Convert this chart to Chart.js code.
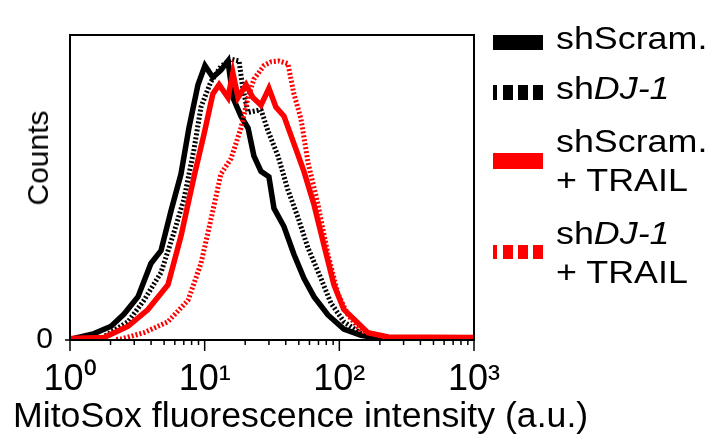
<!DOCTYPE html>
<html>
<head>
<meta charset="utf-8">
<script src="https://cdn.jsdelivr.net/npm/chart.js@4.4.0/dist/chart.umd.min.js"></script>
<style>
  body { margin: 0; background: #fff; }
  #wrap { position: relative; width: 711px; height: 445px; font-family: "Liberation Sans", Arial, sans-serif; color: #000; }
  canvas { position: absolute; left: 0; top: 0; }
  .txt { position: absolute; white-space: nowrap; }
  .leg { position: absolute; left: 556px; font-size: 32px; line-height: 39px; transform: scaleX(1.12); transform-origin: left top; }
  .sw { position: absolute; }
</style>
</head>
<body>
<div id="wrap">
  <canvas id="histo" width="711" height="445"></canvas>
  <div class="txt" id="xTitle" style="left:13px; top:395px; font-size:35.7px; line-height:40px;">MitoSox fluorescence intensity (a.u.)</div>
  <div class="txt" id="yTitle" style="left:38px; top:158px; font-size:30px; line-height:34px; transform: translate(-50%,-50%) rotate(-90deg);">Counts</div>

  <div class="sw" style="left:493px; top:35px; width:50px; height:15px; background:#000;"></div>
  <div class="leg" style="top:19px;">shScram.</div>

  <div class="sw" style="left:493px; top:85px; width:4px; height:15px; background:#000;"></div>
  <div class="sw" style="left:503px; top:85px; width:10px; height:15px; background:#000;"></div>
  <div class="sw" style="left:518px; top:85px; width:10px; height:15px; background:#000;"></div>
  <div class="sw" style="left:533px; top:85px; width:10px; height:15px; background:#000;"></div>
  <div class="leg" style="top:69px;">sh<i>DJ-1</i></div>

  <div class="sw" style="left:493px; top:153px; width:50px; height:16px; background:#ff0000;"></div>
  <div class="leg" style="top:122px;">shScram.<br>+ TRAIL</div>

  <div class="sw" style="left:493px; top:245px; width:4px; height:14px; background:#ff0000;"></div>
  <div class="sw" style="left:503px; top:245px; width:10px; height:14px; background:#ff0000;"></div>
  <div class="sw" style="left:518px; top:245px; width:10px; height:14px; background:#ff0000;"></div>
  <div class="sw" style="left:533px; top:245px; width:10px; height:14px; background:#ff0000;"></div>
  <div class="leg" style="top:214px;">sh<i>DJ-1</i><br>+ TRAIL</div>
</div>
<script>
// histogram data (intensity in a.u., counts in % of max)
const scramX = [1, 1.07, 1.51, 2.02, 2.52, 3.20, 3.99, 4.74, 5.62, 6.67, 7.64, 8.92, 10.05, 11.5, 13.2, 14.9, 16.2, 18.6, 21.0, 23.2, 26.2, 30.0, 32.7, 38.8, 46.0, 54.6, 64.8, 82.3, 108, 145, 194, 300];
const scramY = [0.3, 0.5, 2.1, 4.5, 8.5, 14.2, 25.1, 29.3, 42.3, 54.4, 69.5, 83.7, 90.0, 86.1, 88.5, 91.5, 79.5, 73.4, 69.5, 60.4, 55.3, 53.5, 43.2, 37.2, 28.1, 20.2, 14.2, 8.2, 3.6, 1.5, 0.6, 0.3];

const djX = [1, 1.70, 2.70, 3.54, 4.74, 5.92, 7.02, 8.33, 9.39, 11.1, 13.2, 15.7, 18.0, 19.2, 21.0, 26.2, 29.5, 35.0, 41.5, 49.3, 58.5, 73.0, 86.6, 108, 145, 194, 300];
const djY = [0.2, 0.5, 6.0, 13.0, 22.1, 35.3, 46.2, 62.5, 76.4, 84.6, 89.7, 92.1, 91.5, 82.5, 74.6, 75.5, 68.6, 60.4, 49.2, 40.2, 30.2, 20.2, 12.1, 6.0, 2.1, 0.8, 0.3];

const scramTrailX = [1, 1.79, 2.70, 3.79, 5.34, 6.67, 8.33, 9.88, 11.5, 12.8, 14.9, 16.2, 17.7, 20.3, 22.8, 26.2, 30.0, 33.8, 38.8, 46.0, 54.6, 64.8, 76.9, 91.2, 108, 128, 163, 230, 1000];
const scramTrailY = [0.5, 0.8, 4.5, 10.0, 18.1, 34.1, 53.5, 67.4, 80.7, 83.7, 79.5, 87.6, 79.5, 83.7, 79.5, 77.0, 82.5, 76.4, 73.4, 64.4, 55.3, 44.4, 31.1, 18.1, 10.0, 6.9, 2.4, 1.0, 0.8];

const djTrailX = [2.2, 2.39, 3.54, 5.34, 7.52, 9.39, 11.1, 13.2, 15.7, 18.6, 21.0, 23.2, 27.6, 31.1, 35.6, 41.5, 46.0, 51.9, 58.5, 69.4, 82.3, 97.7, 116, 145, 194, 254, 400];
const djTrailY = [0.2, 0.3, 2.4, 6.0, 13.0, 25.1, 39.3, 54.4, 59.5, 69.5, 79.5, 85.5, 90.0, 91.2, 91.5, 90.6, 80.7, 72.5, 58.3, 44.4, 28.1, 15.1, 8.2, 3.0, 1.5, 0.6, 0.3];

const decades = [1, 10, 100, 1000];
const sup = ['\u2070', '\u00b9', '\u00b2', '\u00b3'];

const pts = (xs, ys) => xs.map((x, i) => ({x: x, y: ys[i]}));

// box + tick marks (major/minor have different lengths)
const frame = {
  id: 'frame',
  afterDraw(chart) {
    const ctx = chart.ctx;
    const a = chart.chartArea;
    const xs = chart.scales.x;
    ctx.save();
    ctx.strokeStyle = '#000';
    ctx.lineWidth = 2;
    ctx.strokeRect(a.left, a.top, a.right - a.left, a.bottom - a.top);
    ctx.lineWidth = 1.5;
    ctx.beginPath();
    for (let d = 0; d < 3; d++) {
      for (let m = 1; m < 10; m++) {
        const px = xs.getPixelForValue(m * Math.pow(10, d));
        ctx.moveTo(px, a.bottom);
        ctx.lineTo(px, a.bottom + (m == 1 ? 11 : 5));
      }
    }
    const pEnd = xs.getPixelForValue(1000);
    ctx.moveTo(pEnd, a.bottom);
    ctx.lineTo(pEnd, a.bottom + 11);
    // zero tick on y
    const y0 = chart.scales.y.getPixelForValue(0);
    ctx.moveTo(a.left - 5, y0);
    ctx.lineTo(a.left + 4, y0);
    ctx.stroke();
    ctx.restore();
  }
};

new Chart(document.getElementById('histo'), {
  type: 'line',
  data: {
    datasets: [
      {label: 'shScram.', data: pts(scramX, scramY), borderColor: '#000', borderWidth: 5.5, order: 2},
      {label: 'shDJ-1', data: pts(djX, djY), borderColor: '#000', borderWidth: 5, borderDash: [2, 2], order: 3},
      {label: 'shScram. + TRAIL', data: pts(scramTrailX, scramTrailY), borderColor: '#ff0000', borderWidth: 5.5, order: 0},
      {label: 'shDJ-1 + TRAIL', data: pts(djTrailX, djTrailY), borderColor: '#ff0000', borderWidth: 5, borderDash: [2, 2], order: 1}
    ]
  },
  options: {
    responsive: false,
    animation: false,
    layout: {padding: {left: 0, top: 9, right: 237, bottom: 0}},
    elements: {point: {radius: 0}, line: {tension: 0, fill: false, borderJoinStyle: 'miter'}},
    plugins: {legend: {display: false}, tooltip: {enabled: false}},
    scales: {
      x: {
        type: 'logarithmic',
        min: 1,
        max: 1000,
        grid: {display: false, drawTicks: false},
        border: {display: true, color: '#000', width: 2},
        afterFit: s => { s.height = 105; },
        ticks: {
          autoSkip: false,
          maxRotation: 0,
          padding: 18,
          color: '#000',
          font: {family: 'Liberation Sans', size: 36},
          callback: v => {
            const i = decades.indexOf(v);
            return i >= 0 ? '10' + sup[i] : null;
          }
        }
      },
      y: {
        min: 0,
        max: 100,
        grid: {display: false, drawTicks: false},
        border: {display: true, color: '#000', width: 2},
        afterFit: s => { s.width = 70; },
        ticks: {
          padding: 17,
          color: '#000',
          font: {family: 'Liberation Sans', size: 30},
          callback: v => v === 0 ? '0' : null
        }
      }
    }
  },
  plugins: [frame]
});
</script>
</body>
</html>
